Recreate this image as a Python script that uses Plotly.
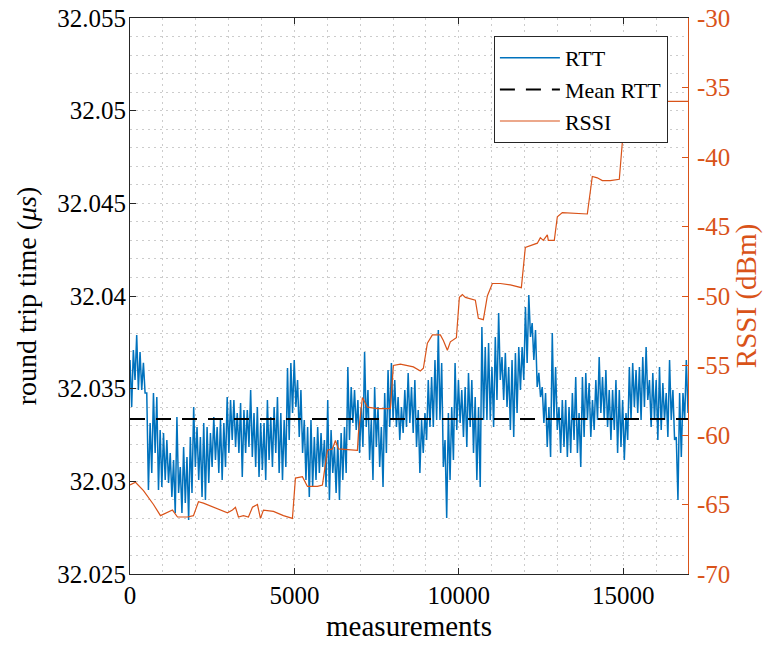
import numpy as np
import plotly.graph_objects as go

# ---------------- data ----------------
X_END = 16970  # last measurement index

# RTT envelope per ~100 measurements: local high / local low (microseconds)
RTT_HI = [
    32.03655, 32.03709, 32.03790, 32.03698, 32.03639, 32.03477, 32.03315, 32.03477, 32.03455, 32.03277,
    32.03261, 32.03223, 32.03153, 32.03115, 32.03347, 32.03077, 32.03185, 32.03131, 32.03239, 32.03401,
    32.03293, 32.03239, 32.03315, 32.03293, 32.03261, 32.03347, 32.03293, 32.03331, 32.03315, 32.03455,
    32.03439, 32.03439, 32.03369, 32.03423, 32.03385, 32.03385, 32.03493, 32.03369, 32.03401, 32.03315,
    32.03315, 32.03439, 32.03347, 32.03401, 32.03455, 32.03369, 32.03331, 32.03612, 32.03639, 32.03655,
    32.03547, 32.03493,
    32.03331, 32.03293, 32.03331, 32.03239, 32.03293, 32.03261, 32.03223, 32.03439, 32.03277, 32.03185,
    32.03223, 32.03261, 32.03293, 32.03617, 32.03509, 32.03493, 32.03439, 32.03401, 32.03698, 32.03493,
    32.03331, 32.03509, 32.03401, 32.03293, 32.03477, 32.03601, 32.03639, 32.03547, 32.03455, 32.03401,
    32.03493, 32.03585, 32.03509, 32.03547, 32.03385, 32.03331, 32.03369, 32.03547, 32.03563, 32.03655,
    32.03817, 32.03639, 32.03223, 32.03369, 32.03401, 32.03639, 32.03547, 32.03493, 32.03509, 32.03585,
    32.03547, 32.03455, 32.03401, 32.03833, 32.03725,
    32.03746, 32.03617, 32.03779, 32.03908, 32.03671, 32.03693, 32.03617, 32.03655, 32.03693, 32.03725,
    32.03725, 32.03941, 32.04005, 32.03854, 32.03817, 32.03585, 32.03509, 32.03477, 32.03401, 32.03800,
    32.03617, 32.03401, 32.03439, 32.03439, 32.03401, 32.03477, 32.03563, 32.03369, 32.03563, 32.03585,
    32.03531, 32.03439, 32.03547, 32.03671, 32.03563, 32.03601, 32.03493, 32.03493, 32.03547, 32.03493,
    32.03439, 32.03369, 32.03617, 32.03639, 32.03601, 32.03617, 32.03671, 32.03725, 32.03547, 32.03585,
    32.03547, 32.03617, 32.03531, 32.03477, 32.03655, 32.03493, 32.03239, 32.03477, 32.03477, 32.03655,
]
RTT_LO = [
    32.03401, 32.03547, 32.03493, 32.03493, 32.03477, 32.02953, 32.03045, 32.03153, 32.02953, 32.02969,
    32.03007, 32.02991, 32.02916, 32.02829, 32.02937, 32.02829, 32.02883, 32.02791, 32.02937, 32.03077,
    32.03007, 32.02916, 32.02899, 32.02991, 32.03077, 32.03115, 32.03045, 32.03007, 32.03077, 32.03153,
    32.03223, 32.03185, 32.03153, 32.03023, 32.03153, 32.03185, 32.03131, 32.03077, 32.03023, 32.03061,
    32.03007, 32.03115, 32.03077, 32.03153, 32.03045, 32.03007, 32.03077, 32.03223, 32.03369, 32.03401,
    32.03239, 32.03153,
    32.03007, 32.02916, 32.02969, 32.03007, 32.03045, 32.03077, 32.02969, 32.02899, 32.03045, 32.02937,
    32.02899, 32.03007, 32.03045, 32.03223, 32.03315, 32.03277, 32.03153, 32.03185, 32.03293, 32.03115,
    32.03007, 32.03185, 32.03077, 32.02969, 32.03153, 32.03293, 32.03331, 32.03293, 32.03223, 32.03261,
    32.03293, 32.03315, 32.03261, 32.03185, 32.03045, 32.03153, 32.03223, 32.03293, 32.03293, 32.03331,
    32.03331, 32.03077, 32.02802, 32.03007, 32.03115, 32.03277, 32.03315, 32.03239, 32.03185, 32.03293,
    32.03153, 32.03007, 32.02969, 32.03331, 32.03331,
    32.03331, 32.03293, 32.03439, 32.03547, 32.03439, 32.03401, 32.03277, 32.03239, 32.03369, 32.03493,
    32.03547, 32.03639, 32.03779, 32.03655, 32.03509, 32.03455, 32.03315, 32.03185, 32.03131, 32.03331,
    32.03277, 32.03153, 32.03185, 32.03131, 32.03153, 32.03223, 32.03153, 32.03077, 32.03239, 32.03331,
    32.03239, 32.03277, 32.03331, 32.03369, 32.03331, 32.03293, 32.03223, 32.03277, 32.03153, 32.03185,
    32.03115, 32.03223, 32.03331, 32.03401, 32.03369, 32.03331, 32.03401, 32.03439, 32.03293, 32.03331,
    32.03223, 32.03277, 32.03331, 32.03239, 32.03331, 32.03223, 32.02899, 32.03131, 32.03331, 32.03369,
]
MEAN_RTT = 32.03336

RSSI_X = [0, 167, 410, 562, 714, 927, 1140, 1292, 1444, 1748, 1930, 2082, 2234, 2538, 2964,
          3116, 3207, 3298, 3450, 3602, 3724, 3876, 3967, 4058, 4362, 4666, 4940, 5031, 5244,
          5396, 5700, 5852, 6004, 6156, 6247, 6338, 6916, 6946, 7068, 7220, 7524, 7919, 8010,
          8223, 8618, 8831, 8922, 9044, 9196, 9439, 9530, 9652, 9743, 9926, 10017, 10108,
          10199, 10503, 10594, 10746, 10868, 11020, 11263, 11567, 11902, 12023, 12236, 12388,
          12479, 12570, 12692, 12722, 12904, 12996, 13148, 13695, 13908, 14060, 14212, 14364,
          14607, 14881, 15002, 15124, 15884, 15914, 16340, 16970]
RSSI_DBM = [-63.6, -63.4, -64.0, -64.5, -65.0, -65.8, -65.6, -65.4, -65.9, -65.9, -65.8, -64.8,
            -64.9, -65.2, -65.6, -65.4, -65.2, -65.9, -65.8, -65.9, -65.2, -65.0, -66.0, -65.4,
            -65.5, -65.8, -66.0, -63.1, -63.0, -63.7, -63.7, -63.6, -61.1, -61.0, -60.4, -61.0,
            -61.1, -59.9, -57.3, -58.0, -58.1, -58.1, -55.0, -54.9, -55.1, -55.4, -55.2, -53.4,
            -52.8, -52.8, -53.2, -53.9, -53.3, -53.0, -50.1, -49.9, -50.1, -50.3, -51.6, -51.7,
            -50.0, -49.1, -49.1, -49.2, -49.4, -46.5, -46.3, -46.2, -45.8, -46.0, -45.6, -46.0,
            -46.0, -44.3, -44.0, -44.1, -44.1, -41.4, -41.5, -41.7, -41.7, -41.6, -38.1, -38.1,
            -38.0, -36.0, -36.0, -36.0]

X_TICKS = [0, 5000, 10000, 15000]
X_TICK_TEXT = ["0", "5000", "10000", "15000"]
Y_TICKS = [32.025, 32.030, 32.035, 32.040, 32.045, 32.050, 32.055]
Y_TICK_TEXT = ["32.025", "32.03", "32.035", "32.04", "32.045", "32.05", "32.055"]
Y2_TICKS = [-70, -65, -60, -55, -50, -45, -40, -35, -30]
Y2_TICK_TEXT = ["-70", "-65", "-60", "-55", "-50", "-45", "-40", "-35", "-30"]

# ---------------- build ----------------
n = min(len(RTT_HI), len(RTT_LO))
rtt = np.empty(2 * n)
rtt[0::2] = RTT_HI[:n]
rtt[1::2] = RTT_LO[:n]
meas = np.linspace(0, X_END, rtt.size)

BLUE = "#0072BD"
ORANGE = "#D95319"
GRID = "#cccccc"
AX = "#262626"
FAM = "Liberation Serif"


def f(size, color="black"):
    return dict(family=FAM, size=size, color=color)


fig = go.Figure()
fig.add_trace(go.Scatter(x=meas, y=rtt, mode="lines", name="RTT",
                         line=dict(color=BLUE, width=1.5)))
fig.add_trace(go.Scatter(x=[0, X_END], y=[MEAN_RTT, MEAN_RTT], mode="lines", name="Mean RTT",
                         line=dict(color="black", width=2, dash="15px,11px")))
fig.add_trace(go.Scatter(x=RSSI_X, y=RSSI_DBM, mode="lines", name="RSSI", yaxis="y2",
                         line=dict(color=ORANGE, width=1.2)))

fig.update_layout(
    template="none",
    width=763, height=646,
    margin=dict(l=130, r=75, t=18, b=72, autoexpand=False),
    paper_bgcolor="white", plot_bgcolor="white",
    font=f(25),
    showlegend=True,
    legend=dict(x=0.964, xanchor="right", y=0.9676, yanchor="top",
                bgcolor="white", bordercolor=AX, borderwidth=1,
                font=f(22), itemwidth=60, tracegroupgap=0),
    xaxis=dict(
        range=[0, X_END], tickvals=X_TICKS, ticktext=X_TICK_TEXT,
        ticks="inside", ticklen=6, tickcolor=AX, tickwidth=1,
        tickfont=f(25),
        showline=True, linecolor=AX, linewidth=1, mirror="ticks",
        showgrid=True, gridcolor=GRID, griddash="2px,4px", gridwidth=1,
        zeroline=False, ticklabelstandoff=-1,
        minor=dict(dtick=1000, showgrid=True, gridcolor=GRID, griddash="2px,4px", ticks=""),
        title=dict(text="measurements", font=f(29), standoff=7),
    ),
    yaxis=dict(
        range=[32.025, 32.055], tickvals=Y_TICKS, ticktext=Y_TICK_TEXT,
        ticks="inside", ticklen=6, tickcolor=AX, tickwidth=1,
        tickfont=f(25),
        showline=True, linecolor=AX, linewidth=1, mirror=False,
        showgrid=True, gridcolor=GRID, griddash="2px,4px", gridwidth=1,
        zeroline=False, ticklabelstandoff=-2,
        minor=dict(dtick=0.001, tick0=32.025, showgrid=True, gridcolor=GRID,
                   griddash="2px,4px", ticks=""),
        title=dict(text="round trip time (<i>μs</i>)", font=f(28), standoff=12),
    ),
    yaxis2=dict(
        range=[-70, -30], tickvals=Y2_TICKS, ticktext=Y2_TICK_TEXT,
        overlaying="y", side="right", anchor="x",
        ticks="inside", ticklen=6, tickcolor=ORANGE, tickwidth=1,
        showline=True, linecolor=ORANGE, linewidth=1,
        showgrid=False, zeroline=False, ticklabelstandoff=3,
        tickfont=f(25, ORANGE),
        title=dict(text="RSSI (dBm)", font=f(29, ORANGE), standoff=5),
    ),
)

fig.write_html("out.html")
